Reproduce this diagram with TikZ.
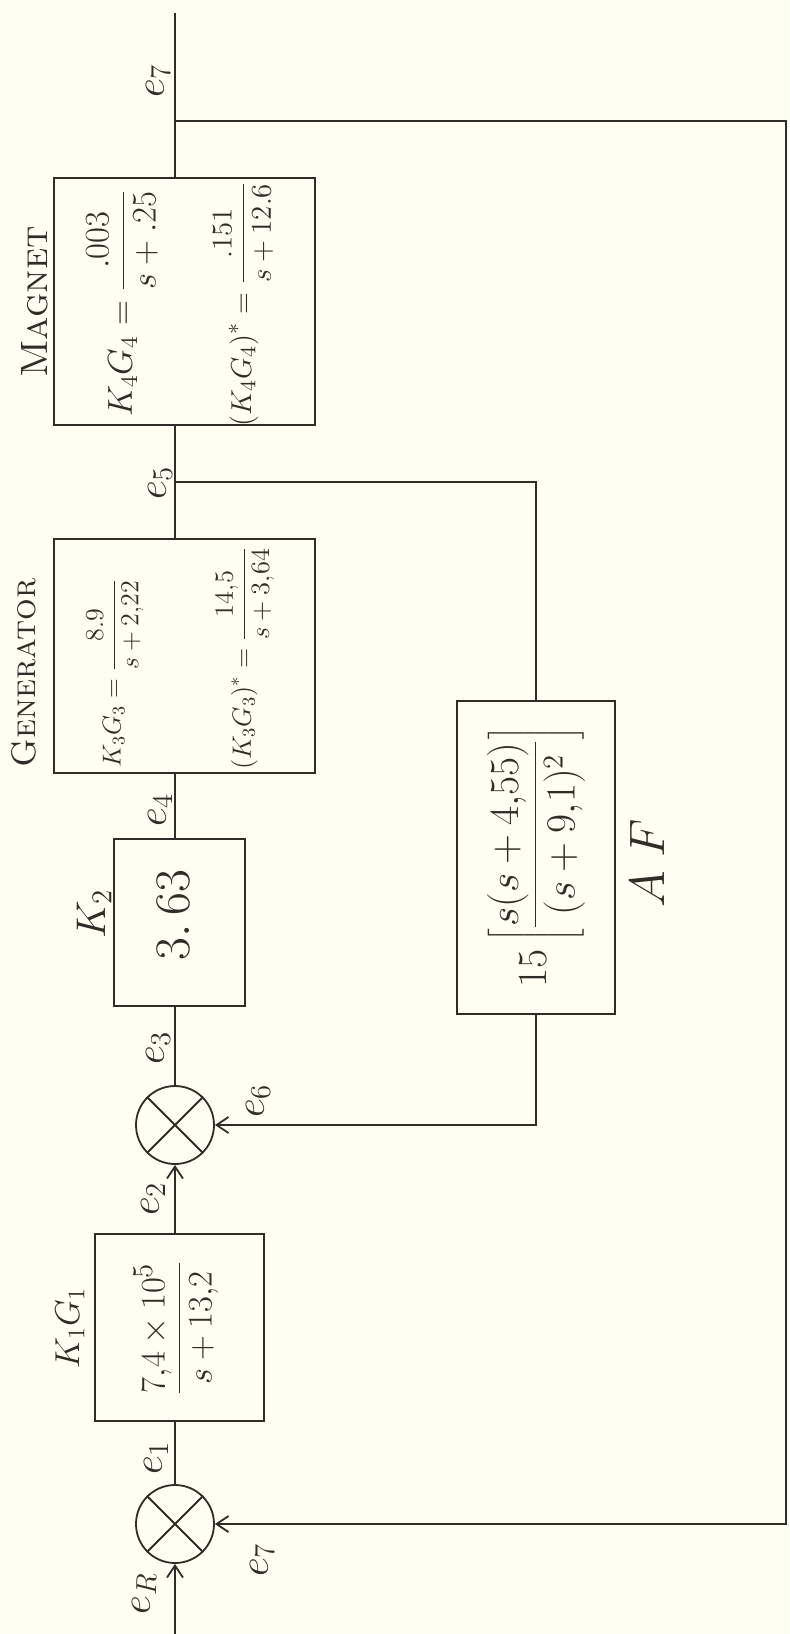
\documentclass[tikz,border=0pt]{standalone}
\usetikzlibrary{arrows.meta}
\definecolor{bg}{RGB}{254,254,242}
\definecolor{ink}{RGB}{48,44,40}
\begin{document}
\begin{tikzpicture}[x=0.5pt,y=-0.5pt,line width=0.9pt,
  blk/.style={draw=ink,line width=1.1pt,inner sep=0pt},
  sumj/.style={draw=ink,circle,inner sep=0pt,minimum size=39pt},
  lab/.style={rotate=90,text=ink,inner sep=0pt},
  arr/.style={-{Straight Barb[length=6pt,width=8pt]}},
  fs/.style={font=\fontsize{#1}{#1}\selectfont}]
\fill[bg] (0,0) rectangle (789,1634);
\useasboundingbox (0,0) rectangle (789,1634);
\begin{scope}[draw=ink]
% blocks
\node[blk,minimum width=130.5pt,minimum height=123.5pt] (magnet) at (184.5,301.5) {};
\node[blk,minimum width=130.5pt,minimum height=117pt] (gen) at (184.5,656) {};
\node[blk,minimum width=65.5pt,minimum height=83.5pt] (k2) at (179.5,922.5) {};
\node[blk,minimum width=84.5pt,minimum height=93.5pt] (k1) at (179.5,1327.5) {};
\node[blk,minimum width=79pt,minimum height=156.5pt] (af) at (536,857.5) {};
% summing junctions
\node[sumj] (s2) at (175,1125) {};
\node[sumj] (s1) at (175,1524) {};
\draw (s2.north west) -- (s2.south east) (s2.north east) -- (s2.south west);
\draw (s1.north west) -- (s1.south east) (s1.north east) -- (s1.south west);
% coordinates
\coordinate (top) at (175,13);
\coordinate (b7) at (175,121);
\coordinate (b5) at (175,482);
\coordinate (fbr) at (786,800);
\coordinate (inp) at (175,1634);
% main path
\draw (top) -- (magnet.north -| top);
\draw (magnet.south -| top) -- (gen.north -| top);
\draw (gen.south -| top) -- (k2.north -| top);
\draw (k2.south -| top) -- (s2.north);
\draw[arr] (k1.north -| top) -- (s2.south);
\draw (s1.north) -- (k1.south -| top);
\draw[arr] (inp) -- (s1.south);
% feedback paths
\draw[arr] (b7) -| (fbr) |- (s1.east);
\draw (b5) -| (af.north);
\draw[arr] (af.south) |- (s2.east);
\end{scope}
% labels
\node[lab,fs=20] (le7a) at (158,81) {$e_7$};
\node[lab,fs=20] (le5) at (160,483) {$e_5$};
\node[lab,fs=20] (le4) at (160,810) {$e_4$};
\node[lab,fs=20] (le3) at (158,1048) {$e_3$};
\node[lab,fs=20] (le6) at (258,1101) {$e_6$};
\node[lab,fs=20] (le2) at (153,1199) {$e_2$};
\node[lab,fs=20] (le1) at (156,1458) {$e_1$};
\node[lab,fs=20] (le7b) at (262,1560) {$e_7$};
\node[lab,fs=20] (leR) at (144,1594) {$e_R$};
\node[lab,fs=19] (tmag) at (35,302) {\textsc{Magnet}};
\node[lab,fs=17] (tgen) at (24,673) {\textsc{Generator}};
\node[lab,fs=20] (tk2) at (94,914) {$K_2$};
\node[lab,fs=18] (tk1) at (70,1328) {$K_1G_1$};
\node[lab,fs=24] (taf) at (647,863) {$A\;F$};
% block contents
\node[lab,fs=16.5] (m1) at (122,303) {$\displaystyle K_4G_4=\frac{.003}{s+.25}$};
\node[lab,fs=15] (m2) at (243,304) {$\displaystyle (K_4G_4)^{*}=\frac{.151}{s+12.6}$};
\node[lab,fs=14.4,scale=0.9] (g1) at (115,673) {$\displaystyle K_3G_3=\frac{8.9}{s+2{,}22}$};
\node[lab,fs=14.4,scale=0.92] (g2) at (245,658) {$\displaystyle (K_3G_3)^{*}=\frac{14{,}5}{s+3{,}64}$};
\node[lab,fs=25] (k2v) at (173,915) {$3.\,63$};
\node[lab,fs=19] (k1v) at (176,1328) {$\displaystyle \frac{7{,}4\times10^{5}}{s+13{,}2}$};
\node[lab,fs=21] (afv) at (536,857) {$\displaystyle 15\left[\frac{s(s+4{,}55)}{(s+9{,}1)^{2}}\right]$};
\end{tikzpicture}
\end{document}
